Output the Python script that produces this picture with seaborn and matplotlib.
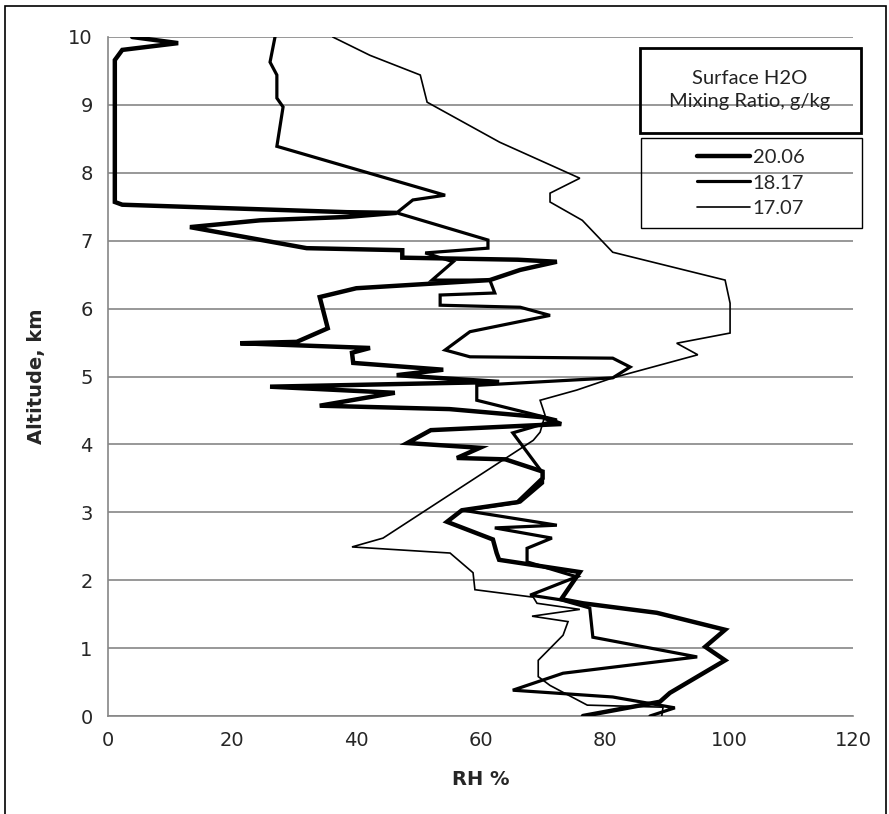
import matplotlib
matplotlib.use("Agg")
import matplotlib.pyplot as plt
import seaborn as sns
import pandas as pd
from matplotlib.patches import Rectangle
from matplotlib.lines import Line2D

# ---- data ----
alt_2006 = [10.0, 9.91, 9.81, 9.66, 7.57, 7.53, 7.42, 7.41, 7.35, 7.30, 7.20, 6.89, 6.86, 6.75,
            6.72, 6.69, 6.57, 6.42, 6.30, 6.17, 5.71, 5.51, 5.49, 5.42, 5.35, 5.20, 5.10, 5.02,
            4.92, 4.85, 4.76, 4.57, 4.52, 4.40, 4.30, 4.21, 4.02, 3.95, 3.80, 3.78, 3.60, 3.50,
            3.15, 3.03, 2.86, 2.60, 2.40, 2.30, 2.12, 1.72, 1.66, 1.52, 1.27, 1.02, 0.82, 0.34,
            0.21, 0.0]
rh_2006 = [3.9, 11.3, 2.3, 1.1, 1.1, 2.3, 38.5, 46.5, 38.5, 24.5, 13.2, 32.0, 47.4, 47.4,
           66.0, 72.3, 66.4, 61.5, 40.0, 34.1, 35.4, 30.4, 21.3, 42.2, 39.3, 39.5, 54.0, 46.5,
           63.0, 26.1, 46.2, 34.1, 55.0, 70.0, 73.0, 52.0, 48.2, 59.9, 56.2, 64.0, 70.0, 70.0,
           66.0, 57.0, 54.6, 62.0, 62.6, 63.0, 76.0, 73.0, 76.5, 88.4, 99.4, 96.2, 99.4, 90.5,
           88.9, 76.5]

alt_1817 = [10.0, 9.63, 9.44, 9.10, 8.97, 8.39, 7.67, 7.60, 7.41, 7.01, 6.89, 6.82, 6.69,
            6.42, 6.42, 6.23, 6.20, 6.05, 6.02, 5.90, 5.66, 5.39, 5.29, 5.27, 5.14, 4.98,
            4.87, 4.65, 4.43, 4.36, 4.17, 3.58, 3.43, 3.15, 3.03, 2.81, 2.77, 2.62, 2.47,
            2.27, 2.05, 1.78, 1.71, 1.59, 1.16, 0.87, 0.63, 0.38, 0.28, 0.12, 0.0]
rh_1817 = [26.9, 26.1, 27.2, 27.2, 28.2, 27.2, 54.3, 49.1, 46.5, 61.2, 61.2, 51.1, 55.6,
           52.2, 61.5, 62.3, 53.5, 53.5, 66.4, 71.2, 58.3, 54.3, 58.3, 81.3, 84.1, 81.3,
           59.4, 59.4, 69.1, 72.3, 65.2, 70.0, 70.0, 66.4, 57.2, 72.3, 62.3, 71.5, 67.5,
           67.5, 75.5, 68.0, 73.0, 77.6, 78.1, 94.9, 73.3, 65.2, 81.3, 91.3, 87.3]

alt_1707 = [10.0, 9.73, 9.44, 9.04, 8.45, 7.92, 7.70, 7.57, 7.30, 6.83, 6.42, 6.08, 5.64,
            5.49, 5.32, 4.98, 4.80, 4.65, 4.43, 4.18, 4.06, 3.84, 2.62, 2.49, 2.40, 2.11,
            1.86, 1.75, 1.66, 1.57, 1.47, 1.39, 1.19, 0.82, 0.58, 0.45, 0.16, 0.13, 0.0]
rh_1707 = [36.2, 42.2, 50.3, 51.4, 63.1, 76.0, 71.2, 71.2, 76.4, 81.3, 99.4, 100.2, 100.2,
           91.6, 95.0, 81.3, 75.5, 69.6, 70.4, 69.6, 68.5, 64.8, 44.3, 39.3, 55.1, 58.8,
           59.1, 68.5, 69.1, 76.0, 68.3, 74.1, 73.3, 69.3, 69.3, 71.2, 77.2, 89.4, 89.2]

series_labels = ["20.06", "18.17", "17.07"]
legend_title = "Surface H2O\nMixing Ratio, g/kg"
x_ticks = [0, 20, 40, 60, 80, 100, 120]
y_ticks = [0, 1, 2, 3, 4, 5, 6, 7, 8, 9, 10]

# ---- styling ----
sns.set_theme(style="white")
plt.rcParams["font.family"] = ["Lato", "DejaVu Sans"]

W, H = 889, 814
fig = plt.figure(figsize=(W / 100, H / 100), dpi=100)
L, R, T, B = 108, 853, 37, 716
ax = fig.add_axes([L / W, 1 - B / H, (R - L) / W, (B - T) / H])

widths = [3.2, 2.3, 1.2]
for lab, xs, ys, lw in zip(series_labels, [rh_2006, rh_1817, rh_1707],
                           [alt_2006, alt_1817, alt_1707], widths):
    df = pd.DataFrame({"RH": xs, "Alt": ys})
    sns.lineplot(data=df, x="RH", y="Alt", sort=False, estimator=None, ax=ax,
                 color="black", linewidth=lw, solid_joinstyle="miter", zorder=3)

ax.set_xlim(0, 120)
ax.set_ylim(0, 10)
ax.set_xticks(x_ticks)
ax.set_yticks(y_ticks)
ax.yaxis.grid(True, color="#868686", linewidth=1.2)
ax.xaxis.grid(False)
for s in ["top", "right"]:
    ax.spines[s].set_visible(False)
for s in ["left", "bottom"]:
    ax.spines[s].set_color("#868686")
    ax.spines[s].set_linewidth(1.2)
ax.tick_params(axis="both", direction="out", length=5, width=1.2, color="#868686",
               labelsize=14, pad=6)
for t in ax.get_xticklabels() + ax.get_yticklabels():
    t.set_fontfamily(["Liberation Sans Narrow", "DejaVu Sans"])
ax.set_xlabel("RH %", fontsize=14, fontweight="bold", labelpad=14,
              family=["Liberation Sans Narrow", "DejaVu Sans"])
ax.set_ylabel("Altitude, km", fontsize=14, fontweight="bold", labelpad=16,
              family=["Liberation Sans Narrow", "DejaVu Sans"])

# legend title box (transparent)
def ax_x(px):
    return (px - L) / (R - L)

def ax_y(py):
    return (B - py) / (B - T)

ax.add_patch(Rectangle((ax_x(640), ax_y(133)), ax_x(861) - ax_x(640), ax_y(48) - ax_y(133),
                       transform=ax.transAxes, fill=False, edgecolor="black",
                       linewidth=2.0, clip_on=False, zorder=5))
ax.text(ax_x(750), ax_y(90), legend_title, transform=ax.transAxes, ha="center",
        va="center", fontsize=14.5, linespacing=1.45, zorder=6, color="#222222")
ax.add_patch(Rectangle((ax_x(641), ax_y(228)), ax_x(862) - ax_x(641), ax_y(138) - ax_y(228),
                       transform=ax.transAxes, fill=False, edgecolor="black",
                       linewidth=1.0, clip_on=False, zorder=5))
handles = [Line2D([], [], color="black", linewidth=w) for w in widths]
leg = ax.legend(handles, series_labels, loc="center", frameon=False,
                bbox_to_anchor=(ax_x(751), ax_y(183)), fontsize=14.5,
                handlelength=2.6, handletextpad=0.15, labelspacing=0.42,
                borderpad=0)
leg.set_zorder(6)

# figure border
fig.add_artist(Rectangle((5 / W, -0.05), (886 - 5) / W, 1 - 6 / H + 0.05,
                         transform=fig.transFigure, fill=False, edgecolor="black",
                         linewidth=1.2))

fig.savefig("out.png", dpi=100)
